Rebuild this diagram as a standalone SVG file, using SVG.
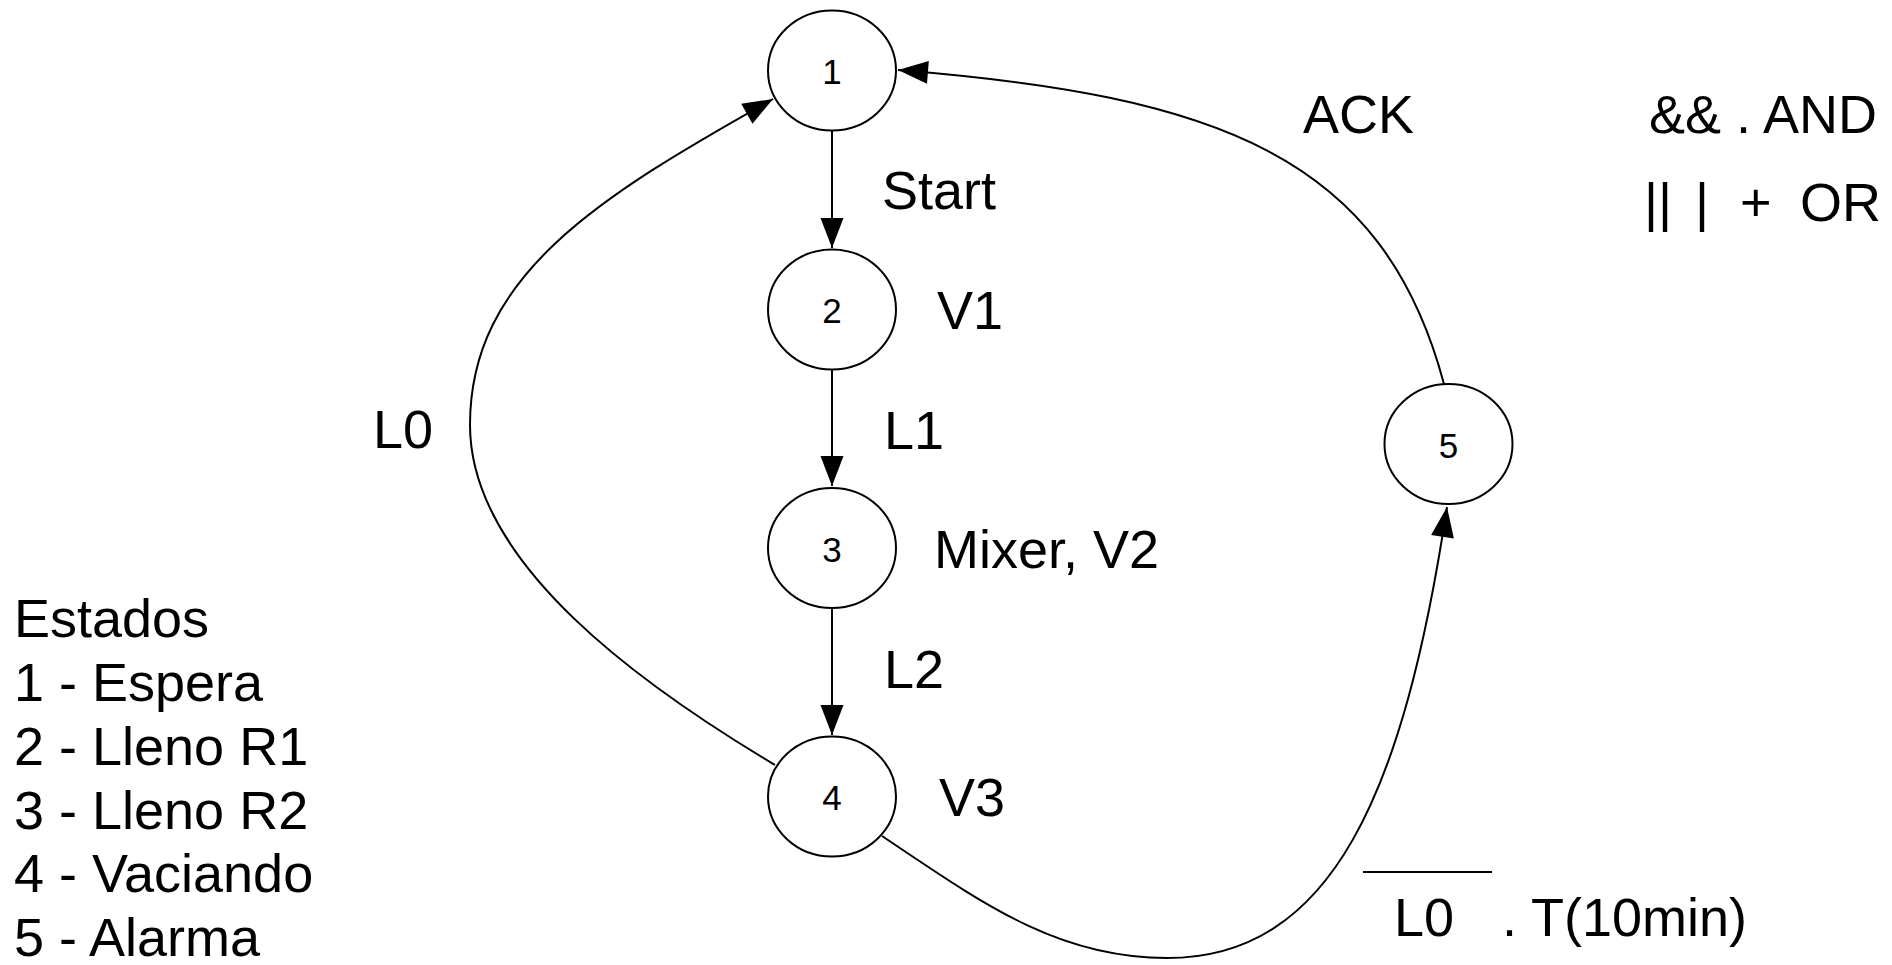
<svg xmlns="http://www.w3.org/2000/svg" width="1892" height="965" viewBox="0 0 1892 965">
  <style>
    .state { fill: #ffffff; stroke: #000000; stroke-width: 2; }
    .num { font-family: "Liberation Sans", Arial, Helvetica, sans-serif; font-size: 35px; fill: #000000; text-anchor: middle; }
    .lbl { font-family: "Liberation Sans", Arial, Helvetica, sans-serif; font-size: 54px; fill: #000000; }
    .edge { fill: none; stroke: #000000; stroke-width: 2; marker-end: url(#arrow); }
  </style>
  <defs>
    <marker id="arrow" markerUnits="userSpaceOnUse" markerWidth="31" markerHeight="24" refX="30" refY="11.5" orient="auto" overflow="visible">
      <path d="M0,0 L30,11.5 L0,23 Z" fill="#000000"/>
    </marker>
  </defs>
  <rect width="1892" height="965" fill="#ffffff"/>

  <!-- transitions -->
  <g id="connectors">
    <path class="edge" d="M832,131 L832,248"/>
    <path class="edge" d="M832,370 L832,486"/>
    <path class="edge" d="M832,608 L832,735"/>
    <!-- 4 -> 1 (L0) -->
    <path class="edge" d="M775,765 C646,688 470,565 470,425 C470,275 599,197 773,99"/>
    <!-- 4 -> 5 (not L0 . T) -->
    <path class="edge" d="M882,836 C982,903 1057,958 1167,958 C1332,958 1403.5,794 1447,507"/>
    <!-- 5 -> 1 (ACK) -->
    <path class="edge" d="M1444,384 C1383,156 1218,95.6 898,70"/>
  </g>

  <g id="state-1">
    <ellipse class="state" cx="832" cy="70.5" rx="64" ry="60"/>
    <text class="num" x="832" y="84">1</text>
  </g>
  <g id="state-2">
    <ellipse class="state" cx="832" cy="309.5" rx="64" ry="60"/>
    <text class="num" x="832" y="323">2</text>
  </g>
  <g id="state-3">
    <ellipse class="state" cx="832" cy="548" rx="64" ry="60"/>
    <text class="num" x="832" y="561.5">3</text>
  </g>
  <g id="state-4">
    <ellipse class="state" cx="832" cy="796.5" rx="64" ry="60"/>
    <text class="num" x="832" y="810">4</text>
  </g>
  <g id="state-5">
    <ellipse class="state" cx="1448.5" cy="444" rx="64" ry="60"/>
    <text class="num" x="1448.5" y="457.5">5</text>
  </g>

  <!-- transition conditions and outputs -->
  <g id="labels">
    <text class="lbl" x="882" y="209">Start</text>
    <text class="lbl" x="937" y="329">V1</text>
    <text class="lbl" x="884" y="449">L1</text>
    <text class="lbl" x="934" y="568">Mixer, V2</text>
    <text class="lbl" x="884" y="688">L2</text>
    <text class="lbl" x="939" y="816">V3</text>
    <text class="lbl" x="373" y="448">L0</text>
    <text class="lbl" x="1303" y="133">ACK</text>
    <line x1="1363" y1="872" x2="1492" y2="872" stroke="#000000" stroke-width="2"/>
    <text class="lbl" x="1394" y="936">L0</text>
    <text class="lbl" x="1502" y="936">. T(10min)</text>
  </g>

  <g id="operators">
    <text class="lbl" x="1649" y="133">&amp;&amp; . AND</text>
    <text class="lbl" y="221"><tspan x="1644">||</tspan><tspan x="1695">|</tspan><tspan x="1740">+</tspan><tspan x="1800">OR</tspan></text>
  </g>

  <g id="legend">
    <text class="lbl" x="14" y="637">Estados</text>
    <text class="lbl" x="14" y="701">1 - Espera</text>
    <text class="lbl" x="14" y="765">2 - Lleno R1</text>
    <text class="lbl" x="14" y="828.5">3 - Lleno R2</text>
    <text class="lbl" x="14" y="892">4 - Vaciando</text>
    <text class="lbl" x="14" y="956">5 - Alarma</text>
  </g>
</svg>
